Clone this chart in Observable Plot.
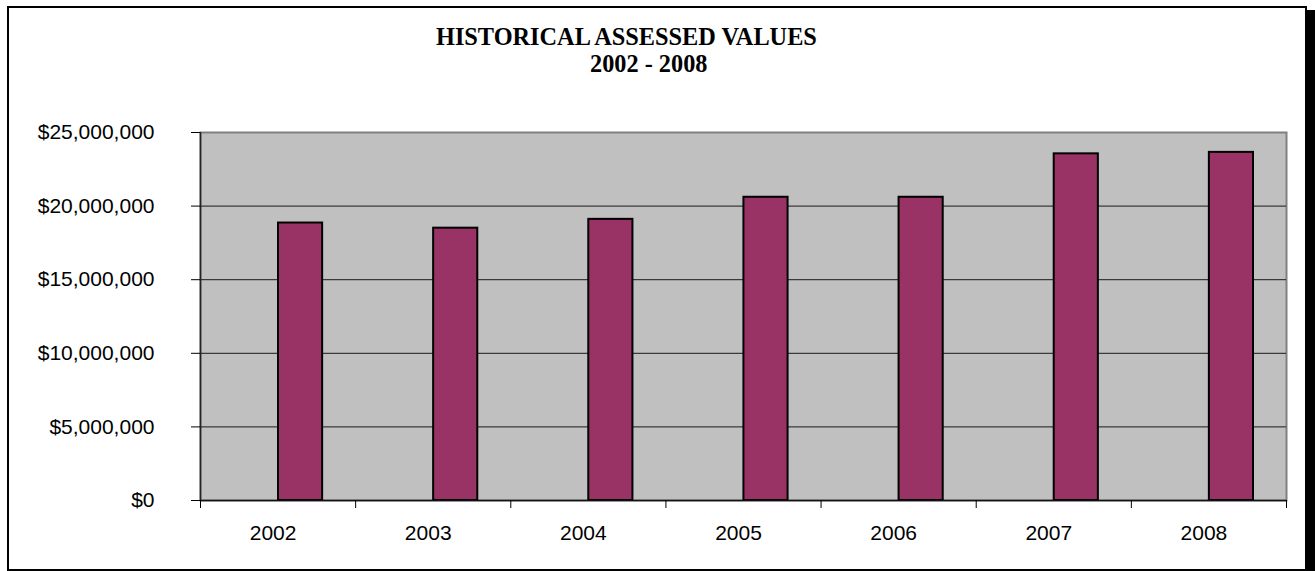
<!DOCTYPE html>
<html>
<head>
<meta charset="utf-8">
<script src="https://cdn.jsdelivr.net/npm/d3@7"></script>
<script src="https://cdn.jsdelivr.net/npm/@observablehq/plot@0.6"></script>
<style>
  html, body { margin: 0; padding: 0; background: #fff; }
  #wrap { position: relative; width: 1315px; height: 571px; overflow: hidden; }
  #wrap svg { position: absolute; left: 0; top: 0; }
  .box { position: absolute; left: 7px; top: 6px; width: 1300px; height: 565px; border: 2px solid #000; box-sizing: border-box; }
  .shadow { position: absolute; left: 1307px; top: 10px; width: 8px; height: 561px; background: #000; }
  .title { position: absolute; font: bold 24.3px "Liberation Serif", "Times New Roman", serif; line-height: 24px; white-space: nowrap; color: #000; }
</style>
</head>
<body>
<div id="wrap"></div>
<script>
// Assessed value per year
const years = ["2002", "2003", "2004", "2005", "2006", "2007", "2008"];
const values = [18850000, 18500000, 19100000, 20600000, 20600000, 23550000, 23650000];
const yTicks = [0, 5000000, 10000000, 15000000, 20000000, 25000000];
const titleLines = ["HISTORICAL ASSESSED VALUES", "2002 - 2008"];

const idx = d3.range(years.length);

const chart = Plot.plot({
  width: 1315,
  height: 571,
  marginLeft: 200,
  marginRight: 29,
  marginTop: 132,
  marginBottom: 71,
  style: { background: "none", fontFamily: '"Liberation Sans", Arial, sans-serif', color: "#000" },
  x: { type: "linear", domain: [0, years.length] },
  y: { domain: [0, 25000000] },
  marks: [
    Plot.frame({ fill: "#c0c0c0", stroke: "#808080", strokeWidth: 2 }),
    Plot.gridY(yTicks.filter(v => v > 0 && v < 25000000), { stroke: "#1a1a1a", strokeOpacity: 1, strokeWidth: 1 }),
    Plot.rectY(values, {
      x1: (d, i) => i,
      x2: (d, i) => i + 1,
      y1: 0,
      y2: d => d,
      insetLeft: 78,
      insetRight: 33,
      fill: "#993366",
      stroke: "#000",
      strokeWidth: 2
    }),
    Plot.ruleX([0], { stroke: "#222", strokeWidth: 1.5 }),
    Plot.ruleY([0], { stroke: "#111", strokeWidth: 1.5 }),
    Plot.axisY({ ticks: yTicks, tickSize: 9, tickPadding: 37, tickFormat: d3.format("$,"), fontSize: 21 }),
    Plot.axisX({ ticks: d3.range(years.length + 1), tickSize: 8, tickFormat: () => "" }),
    Plot.axisX({
      ticks: idx.map(i => i + 0.5),
      tickSize: 0,
      tickPadding: 25,
      tickFormat: v => years[Math.floor(v)],
      fontSize: 21,
      dx: -5
    })
  ]
});

const wrap = document.getElementById("wrap");
wrap.appendChild(chart);

const box = document.createElement("div");
box.className = "box";
wrap.appendChild(box);
const shadow = document.createElement("div");
shadow.className = "shadow";
wrap.appendChild(shadow);

const titlePos = [{ left: 436, top: 25 }, { left: 590, top: 52 }];
titleLines.forEach((t, i) => {
  const el = document.createElement("div");
  el.className = "title";
  el.style.left = titlePos[i].left + "px";
  el.style.top = titlePos[i].top + "px";
  el.textContent = t;
  wrap.appendChild(el);
});
</script>
</body>
</html>
